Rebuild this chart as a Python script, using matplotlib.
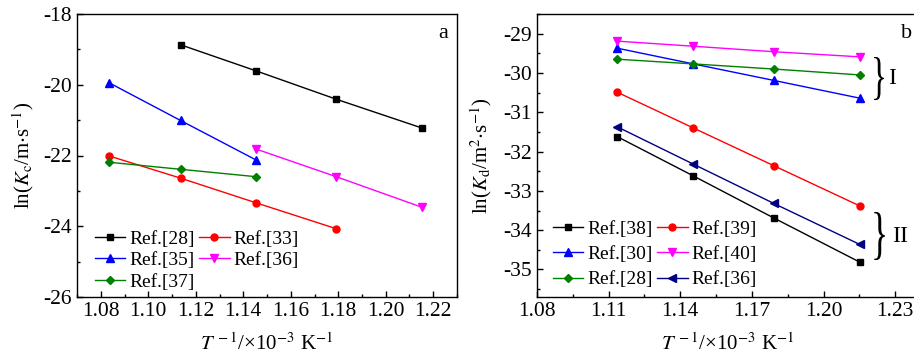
import numpy as np
import matplotlib
matplotlib.use("Agg")
import matplotlib.pyplot as plt
from matplotlib.ticker import MultipleLocator
from matplotlib.textpath import TextPath
from matplotlib.patches import PathPatch
from matplotlib.font_manager import FontProperties
from matplotlib.transforms import Affine2D, IdentityTransform

plt.rcParams['font.family'] = ['Liberation Serif', 'DejaVu Serif']
plt.rcParams['mathtext.fontset'] = 'stix'
plt.rcParams['axes.unicode_minus'] = False
plt.rcParams['font.size'] = 15.5

# 1/T in 1e-3 K^-1 (923, 898, 873, 848, 823 K)
invT = [1.0834, 1.1136, 1.1455, 1.1792, 1.2151]

# panel a: ln(Kc)
a_labels = ['Ref.[28]', 'Ref.[33]', 'Ref.[35]', 'Ref.[36]', 'Ref.[37]']
a_x = [invT[1:], invT[0:4], invT[0:3], invT[2:], invT[0:3]]
a_y = [
    [-18.87, -19.61, -20.41, -21.22],
    [-22.01, -22.64, -23.34, -24.07],
    [-19.94, -21.01, -22.13],
    [-21.82, -22.60, -23.46],
    [-22.19, -22.39, -22.60],
]
a_style = [('black', 's'), ('red', 'o'), ('blue', '^'), ('magenta', 'v'), ('green', 'D')]

# panel b: ln(Kd)
b_labels = ['Ref.[38]', 'Ref.[39]', 'Ref.[30]', 'Ref.[40]', 'Ref.[28]', 'Ref.[36]']
b_x = invT[1:]
b_y = [
    [-31.62, -32.62, -33.69, -34.81],
    [-30.49, -31.40, -32.36, -33.38],
    [-29.37, -29.77, -30.19, -30.64],
    [-29.19, -29.32, -29.46, -29.59],
    [-29.65, -29.77, -29.90, -30.05],
    [-31.37, -32.32, -33.32, -34.36],
]
b_style = [('black', 's'), ('red', 'o'), ('blue', '^'), ('magenta', 'v'),
           ('green', 'D'), ('navy', '<')]

fig = plt.figure(figsize=(9.14, 3.63), dpi=100)
ax1 = fig.add_axes([77/914, 66/363, 380/914, 283/363])
ax2 = fig.add_axes([537/914, 66/363, 382/914, 283/363])


def draw(ax, xs, ys, styles, labels):
    handles = []
    for x, y, (c, m), lab in zip(xs, ys, styles, labels):
        ms = 5 if m in ('s', 'o') else (4.5 if m == 'D' else 6)
        h, = ax.plot(x, y, color=c, marker=m, ms=ms, lw=1, label=lab)
        handles.append(h)
    return handles


h1 = draw(ax1, a_x, a_y, a_style, a_labels)
h2 = draw(ax2, [b_x] * 6, b_y, b_style, b_labels)

for ax in (ax1, ax2):
    ax.tick_params(which='both', direction='in', top=False, right=False, labelsize=15.5)
    ax.tick_params(which='major', length=4, width=1)
    ax.tick_params(which='minor', length=2.5, width=1)
    for s in ax.spines.values():
        s.set_linewidth(1)

ax1.set_xlim(1.07, 1.23)
ax1.set_ylim(-26, -18)
ax1.xaxis.set_minor_locator(MultipleLocator(0.01))
ax1.yaxis.set_major_locator(MultipleLocator(2))
ax1.yaxis.set_minor_locator(MultipleLocator(1))
ax1.set_xticks(np.arange(1.08, 1.221, 0.02))
ax1.set_xticklabels([f'{v:.2f}' for v in np.arange(1.08, 1.221, 0.02)])

ax2.set_xlim(1.08, 1.24)
ax2.set_ylim(-35.7, -28.5)
ax2.set_xticks(np.arange(1.08, 1.231, 0.03))
ax2.set_xticklabels([f'{v:.2f}' for v in np.arange(1.08, 1.231, 0.03)])
ax2.xaxis.set_minor_locator(MultipleLocator(0.015))
ax2.yaxis.set_minor_locator(MultipleLocator(0.5))
ax2.set_yticks(np.arange(-35, -28.9, 1))
ax2.set_yticklabels([f'{int(v)}' for v in np.arange(-35, -28.9, 1)])

xlab = r'$T^{\,-1}$/×10$^{-3}$ K$^{-1}$'
ax1.set_xlabel(xlab, fontsize=15, labelpad=9)
ax2.set_xlabel(xlab, fontsize=15, labelpad=9)
ax1.set_ylabel(r'ln($K_{\rm c}$/m$\cdot$s$^{-1}$)', fontsize=15, labelpad=5)
ax2.set_ylabel(r'ln($K_{\rm d}$/m$^2$$\cdot$s$^{-1}$)', fontsize=15, labelpad=7)

leg_kw = dict(frameon=False, ncol=2, fontsize=14, handlelength=1.55,
              handletextpad=0.2, columnspacing=0.25, borderaxespad=0,
              borderpad=0, loc='upper left', bbox_transform=fig.transFigure)
ax1.legend([h1[0], h1[2], h1[4], h1[1], h1[3]],
           [a_labels[0], a_labels[2], a_labels[4], a_labels[1], a_labels[3]],
           bbox_to_anchor=(95/914, 1 - 230/363), labelspacing=0.2, **leg_kw)
ax2.legend([h2[0], h2[2], h2[4], h2[1], h2[3], h2[5]],
           [b_labels[0], b_labels[2], b_labels[4], b_labels[1], b_labels[3], b_labels[5]],
           bbox_to_anchor=(553/914, 1 - 220/363), labelspacing=0.4, **leg_kw)

ax1.text(443/914, 1 - 33/363, 'a', transform=fig.transFigure, fontsize=16,
         ha='center', va='center')
fig.text(907/914, 1 - 33/363, 'b', fontsize=16, ha='center', va='center')

# group braces, drawn as a stretched "}" glyph in pixel coordinates
brace = TextPath((0, 0), '}', size=1, prop=FontProperties(family='Liberation Serif'))
bx0, by0 = brace.vertices.min(axis=0)
bx1, by1 = brace.vertices.max(axis=0)


def add_brace(x0, x1, ytop, ybot):
    h_px = 363
    tr = (Affine2D().translate(-bx0, -by0)
          .scale((x1 - x0) / (bx1 - bx0), (ybot - ytop) / (by1 - by0))
          .translate(x0, h_px - ybot))
    p = tr.transform_path(brace)
    fig.patches.append(PathPatch(p, transform=IdentityTransform(), fc='black',
                                 ec='none', figure=fig))


add_brace(871, 884, 57, 100)
add_brace(871, 885, 212, 260)
fig.text(892/914, 1 - 79/363, 'I', fontsize=17, ha='center', va='center')
fig.text(900/914, 1 - 237/363, 'II', fontsize=17, ha='center', va='center')

fig.savefig('out.png', dpi=100)
